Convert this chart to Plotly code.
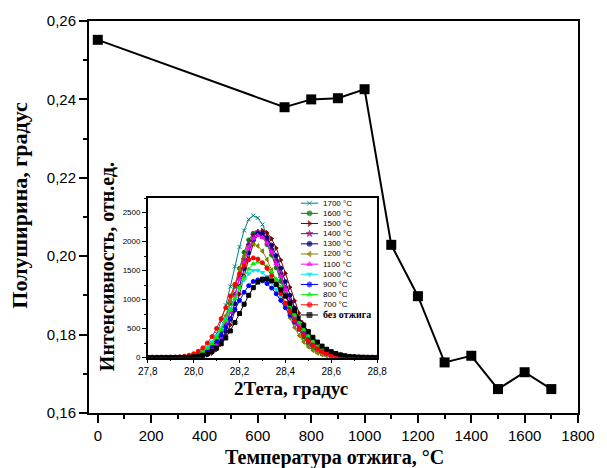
import plotly.graph_objects as go

# ---------------- main chart data ----------------
temps = [0, 700, 800, 900, 1000, 1100, 1200, 1300, 1400, 1500, 1600, 1700]
fwhm = [0.2552, 0.2380, 0.2400, 0.2403, 0.2426, 0.2029, 0.1898, 0.1729, 0.1746, 0.1661, 0.1704, 0.1661]

# ---------------- inset data ----------------
two_theta = [27.80, 27.82, 27.84, 27.86, 27.88, 27.90, 27.92, 27.94, 27.96, 27.98,
             28.00, 28.02, 28.04, 28.06, 28.08, 28.10, 28.12, 28.14, 28.16, 28.18,
             28.20, 28.22, 28.24, 28.26, 28.28, 28.30, 28.32, 28.34, 28.36, 28.38,
             28.40, 28.42, 28.44, 28.46, 28.48, 28.50, 28.52, 28.54, 28.56, 28.58,
             28.60, 28.62, 28.64, 28.66, 28.68, 28.70, 28.72, 28.74, 28.76, 28.78, 28.80]

I_none = [0,0,0,0,0,0,1,2,4,7, 13,24,41,67,107, 163,239,338,460,603, 760,921,1074,1206,1302,
          1353,1356,1323,1259,1169, 1060,937,808,680,558, 447,350,267,198,144, 102,70,47,31,20,
          13,8,5,3,1, 1]
I_700 = [0,0,0,1,2,3,7,12,23,40, 66,108,167,251,362, 502,670,860,1063,1264, 1446,1593,1687,1720,1699,
         1637,1539,1412,1264,1104, 940,782,634,502,387, 292,214,154,108,73, 49,32,20,12,8,
         4,3,1,1,0, 0]
I_800 = [0,0,0,0,1,2,3,6,12,22, 38,64,103,161,241, 347,481,642,825,1020, 1213,1387,1528,1618,1650,
         1630,1571,1477,1355,1213, 1059,902,750,608,481, 371,280,206,147,103, 70,47,31,19,12,
         7,4,2,1,1, 0]
I_900 = [0,0,0,0,1,1,3,5,10,18, 31,52,84,130,195, 282,391,522,670,828, 985,1127,1241,1314,1340,
         1324,1276,1199,1100,985, 860,733,609,494,391, 302,227,167,120,84, 57,38,25,16,10,
         6,3,2,1,1, 0]
I_1000 = [0,0,0,0,1,2,4,8,15,26, 45,75,118,181,266, 376,511,669,843,1022, 1193,1339,1446,1503,1505,
          1469,1398,1298,1177,1040, 897,755,620,497,388, 296,220,160,113,78, 53,35,22,14,8,
          5,3,2,1,0, 0]
I_1100 = [0,0,0,0,0,0,0,1,2,4, 9,19,39,74,132, 223,358,542,778,1055, 1354,1644,1888,2052,2110,
          2076,1976,1820,1623,1400, 1169,944,738,559,409, 290,199,132,85,53, 32,18,10,6,3,
          1,1,0,0,0, 0]
I_1200 = [0,0,0,0,0,0,1,2,4,9, 18,36,68,123,207, 332,504,722,980,1258, 1527,1754,1906,1960,1928,
          1836,1691,1507,1300,1086, 877,686,519,380,269, 185,123,79,49,29, 17,10,5,3,1,
          1,0,0,0,0, 0]
I_1300 = [0,0,0,0,0,0,0,0,1,3, 6,14,28,55,101, 176,290,452,666,929, 1226,1531,1808,2020,2135,
          2141,2072,1940,1758,1542, 1309,1075,854,657,489, 352,246,166,108,68, 42,25,14,8,4,
          2,1,0,0,0, 0]
I_1400 = [0,0,0,0,0,0,0,1,2,4, 10,20,40,76,136, 230,368,558,800,1085, 1392,1691,1942,2111,2170,
          2135,2032,1872,1669,1440, 1202,971,759,575,421, 298,204,136,87,54, 33,19,11,6,3,
          2,1,0,0,0, 0]
I_1500 = [0,0,0,0,0,0,0,0,1,2, 4,10,20,41,76, 137,232,371,563,807, 1095,1405,1706,1960,2130,
          2190,2154,2051,1889,1684, 1453,1213,980,766,580, 425,301,206,137,88, 55,33,19,11,6,
          3,2,1,0,0, 0]
I_1600 = [0,0,0,0,0,0,0,1,3,6, 14,28,55,102,177, 291,454,669,934,1232, 1538,1816,2029,2145,2151,
          2082,1949,1767,1549,1315, 1080,858,660,491,354, 247,166,109,69,42, 25,14,8,4,2,
          1,0,0,0,0, 0]
I_1700 = [0,0,0,0,0,0,1,2,5,11, 23,45,86,153,259, 416,630,903,1225,1572, 1909,2193,2383,2450,2410,
          2296,2114,1884,1626,1357, 1097,857,649,475,337, 231,153,98,61,37, 21,12,7,3,2,
          1,0,0,0,0, 0]

labels = ["без отжига", "700 °C", "800 °C", "900 °C", "1000 °C", "1100 °C",
          "1200 °C", "1300 °C", "1400 °C", "1500 °C", "1600 °C", "1700 °C"]
series = [I_none, I_700, I_800, I_900, I_1000, I_1100, I_1200, I_1300, I_1400, I_1500, I_1600, I_1700]

# styles
colors = ["#000000", "#FF0000", "#00EE00", "#0000FF", "#00E5FF", "#FF00FF",
          "#808000", "#000080", "#800080", "#800000", "#008000", "#008080"]
symbols = ["square", "circle", "triangle-up", "circle", "triangle-down", "triangle-up",
           "triangle-left", "circle", "star", "triangle-right", "circle", "x-thin-open"]

SANS = "Liberation Sans"
SERIF = "Liberation Serif"

fig = go.Figure()

# main curve
fig.add_trace(go.Scatter(x=temps, y=fwhm, mode="lines+markers",
                         line=dict(color="black", width=2),
                         marker=dict(symbol="square", size=10, color="black"),
                         xaxis="x", yaxis="y"))

# inset curves (drawn from highest temperature down, black on top)
for k in reversed(range(len(series))):
    fig.add_trace(go.Scatter(x=two_theta, y=series[k], mode="lines+markers",
                             line=dict(color=colors[k], width=1),
                             marker=dict(symbol=symbols[k], size=4, color=colors[k],
                                         line=dict(color=colors[k], width=1)),
                             xaxis="x2", yaxis="y2"))

# custom compact legend inside the inset
n = len(labels)
annotations = []
for k in range(n):
    row = k  # без отжига at bottom (row 0), 1700 at top
    fig.add_trace(go.Scatter(x=[0, 1, 2], y=[row, row, row], mode="lines+markers",
                             line=dict(color=colors[k], width=1),
                             marker=dict(symbol=symbols[k], size=[0, 5, 0], color=colors[k],
                                         line=dict(color=colors[k], width=1)),
                             xaxis="x3", yaxis="y3", hoverinfo="skip"))
    if k == 0:
        txt = "<b>" + labels[k] + "</b>"
        fnt = dict(family=SERIF, size=10, color="black")
    else:
        txt = labels[k]
        fnt = dict(family=SANS, size=8, color="black")
    annotations.append(dict(x=2, y=row, xref="x3", yref="y3", text=txt, showarrow=False,
                            xanchor="left", yanchor="middle", xshift=3, font=fnt))

# titles
annotations += [
    dict(text="<b>Температура отжига, °C</b>", x=0.502, y=-0.1136, xref="paper", yref="paper",
         showarrow=False, xanchor="center", yanchor="middle",
         font=dict(family=SERIF, size=20, color="black")),
    dict(text="<b>Полуширина, градус</b>", x=-0.1423, y=0.53, xref="paper", yref="paper",
         showarrow=False, xanchor="center", yanchor="middle", textangle=-90,
         font=dict(family=SERIF, size=22, color="black")),
    dict(text="<b>2Тета, градус</b>", x=0.4128, y=0.0631, xref="paper", yref="paper",
         showarrow=False, xanchor="center", yanchor="middle",
         font=dict(family=SERIF, size=19, color="black")),
    dict(text="<b>Интенсивность, отн.ед.</b>", x=0.0361, y=0.3737, xref="paper", yref="paper",
         showarrow=False, xanchor="center", yanchor="middle", textangle=-90,
         font=dict(family=SERIF, size=20, color="black")),
]

main_axis = dict(showline=True, linewidth=2, linecolor="black", mirror=True,
                 ticks="outside", ticklen=8, tickwidth=1.5, tickcolor="black",
                 showgrid=False, zeroline=False,
                 tickfont=dict(family=SANS, size=15, color="black"))
inset_axis = dict(showline=True, linewidth=1.5, linecolor="black", mirror=True,
                  ticks="outside", ticklen=4, tickwidth=1, tickcolor="black",
                  showgrid=False, zeroline=False)

fig.update_layout(
    width=607, height=468,
    margin=dict(l=89, r=19, t=17, b=55),
    paper_bgcolor="white", plot_bgcolor="white",
    showlegend=False,
    separators=",.",
    xaxis=dict(main_axis, domain=[0, 1], range=[-33, 1800], tick0=0, dtick=200,
               minor=dict(dtick=100, ticks="outside", ticklen=4, tickwidth=1.5,
                          tickcolor="black", showgrid=False)),
    yaxis=dict(main_axis, domain=[0, 1], range=[0.16, 0.26], tick0=0.16, dtick=0.02,
               tickformat=".2f",
               minor=dict(dtick=0.01, ticks="outside", ticklen=4, tickwidth=1.5,
                          tickcolor="black", showgrid=False)),
    xaxis2=dict(inset_axis, domain=[0.1202, 0.5892], anchor="y2", range=[27.8, 28.8],
                tick0=27.8, dtick=0.2, tickformat=".1f",
                tickfont=dict(family=SANS, size=10, color="black"),
                minor=dict(dtick=0.1, ticks="outside", ticklen=2, tickwidth=1,
                           tickcolor="black", showgrid=False)),
    yaxis2=dict(inset_axis, domain=[0.1414, 0.548], anchor="x2", range=[0, 2750],
                tick0=0, dtick=500,
                tickfont=dict(family=SANS, size=8, color="black"),
                minor=dict(dtick=250, ticks="outside", ticklen=2, tickwidth=1,
                           tickcolor="black", showgrid=False)),
    xaxis3=dict(domain=[0.4329, 0.4689], anchor="y3", range=[0, 2], visible=False),
    yaxis3=dict(domain=[0.2371, 0.5482], anchor="x3", range=[-0.5, 11.5], visible=False),
    annotations=annotations,
)

fig.write_html("out.html")
